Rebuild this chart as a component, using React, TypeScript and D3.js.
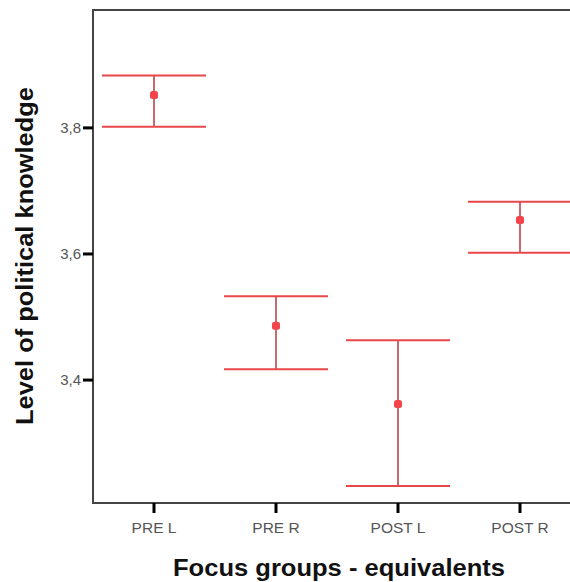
import React from "react";
import * as d3 from "d3";

const groups = ["PRE L", "PRE R", "POST L", "POST R"];
const means = [3.852, 3.486, 3.362, 3.654];
const upper = [3.883, 3.533, 3.463, 3.683];
const lower = [3.802, 3.417, 3.232, 3.602];
const yTicks = [3.4, 3.6, 3.8];

export default function App() {
  const width = 570;
  const height = 582;
  const margin = { top: 10, left: 93, bottom: 503 };

  const x = d3
    .scalePoint<string>()
    .domain(groups)
    .range([margin.left, margin.left + 4 * 122])
    .padding(0.5);

  const y = d3.scaleLinear().domain([3.205, 3.987]).range([margin.bottom, margin.top]);

  const fmt = (v: number) => d3.format(".1f")(v).replace(".", ",");
  const capHalf = 52;

  return (
    <svg
      width={width}
      height={height}
      style={{ position: "absolute", left: 0, top: 0, background: "#fff" }}
      fontFamily="Arial, 'Liberation Sans', sans-serif"
    >
      {/* frame */}
      <rect
        x={margin.left}
        y={margin.top}
        width={600}
        height={margin.bottom - margin.top}
        fill="none"
        stroke="#444"
        strokeWidth={2}
      />

      {/* y axis ticks */}
      {yTicks.map((t) => (
        <g key={t} transform={`translate(0, ${y(t)})`}>
          <line x1={margin.left - 10} x2={margin.left} stroke="#000" strokeWidth={3} />
          <text x={margin.left - 12} dy="0.36em" textAnchor="end" fontSize={15} fill="#555">
            {fmt(t)}
          </text>
        </g>
      ))}

      {/* x axis ticks */}
      {groups.map((g) => (
        <g key={g} transform={`translate(${x(g)}, 0)`}>
          <line y1={margin.bottom} y2={margin.bottom + 10} stroke="#000" strokeWidth={3} />
          <text y={margin.bottom + 30} textAnchor="middle" fontSize={15.5} fill="#555">
            {g}
          </text>
        </g>
      ))}

      {/* error bars */}
      {groups.map((g, i) => {
        const cx = x(g) as number;
        return (
          <g key={g}>
            <line x1={cx} x2={cx} y1={y(upper[i])} y2={y(lower[i])} stroke="#b8474a" strokeWidth={1.6} />
            <line x1={cx - capHalf} x2={cx + capHalf} y1={y(upper[i])} y2={y(upper[i])} stroke="#e8474a" strokeWidth={2} />
            <line x1={cx - capHalf} x2={cx + capHalf} y1={y(lower[i])} y2={y(lower[i])} stroke="#e8474a" strokeWidth={2} />
            <rect x={cx - 4} y={y(means[i]) - 4} width={8} height={8} rx={2.5} fill="#f2444a" />
          </g>
        );
      })}

      {/* axis titles */}
      <text
        transform={`translate(33, 256) rotate(-90)`}
        textAnchor="middle"
        fontSize={23}
        fontWeight="bold"
        fill="#111"
        textLength={338}
        lengthAdjust="spacingAndGlyphs"
      >
        Level of political knowledge
      </text>
      <text
        x={339}
        y={576}
        textAnchor="middle"
        fontSize={23}
        fontWeight="bold"
        fill="#111"
        textLength={332}
        lengthAdjust="spacingAndGlyphs"
      >
        Focus groups - equivalents
      </text>
    </svg>
  );
}
